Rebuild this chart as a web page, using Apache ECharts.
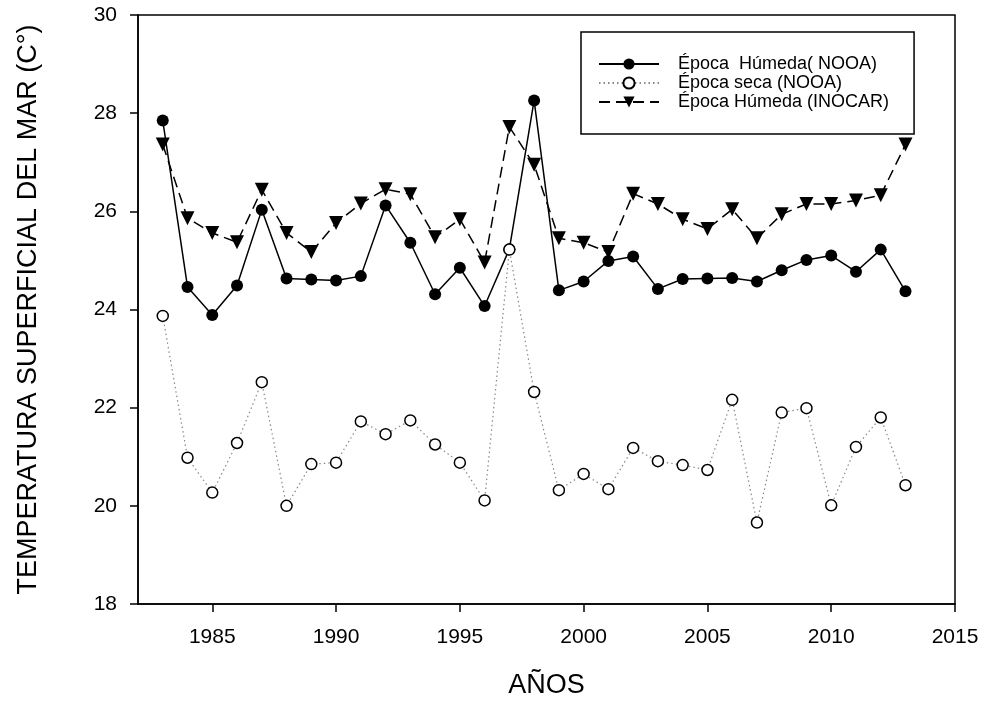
<!DOCTYPE html>
<html lang="es">
<head>
    <meta charset="UTF-8">
    <title>Temperatura superficial del mar</title>
    <script src="https://cdn.jsdelivr.net/npm/echarts@6/dist/echarts.min.js"></script>
</head>
<body style="margin:0;background:#fff;">
<div id="tsmChart" style="width:984px;height:704px;"></div>
<script type="text/javascript">
    // años y valores
    var years = [1983, 1984, 1985, 1986, 1987, 1988, 1989, 1990, 1991, 1992, 1993, 1994, 1995, 1996, 1997, 1998,
        1999, 2000, 2001, 2002, 2003, 2004, 2005, 2006, 2007, 2008, 2009, 2010, 2011, 2012, 2013];
    var humedaNOOA = [27.85, 24.46, 23.89, 24.49, 26.03, 24.63, 24.61, 24.59, 24.68, 26.12, 25.36, 24.31, 24.85, 24.07, 25.23, 28.26,
        24.39, 24.57, 24.99, 25.08, 24.42, 24.62, 24.63, 24.64, 24.57, 24.80, 25.01, 25.10, 24.77, 25.22, 24.37];
    var secaNOOA = [23.87, 20.98, 20.27, 21.28, 22.52, 20.00, 20.85, 20.88, 21.72, 21.46, 21.74, 21.25, 20.88, 20.11, 25.22, 22.32,
        20.32, 20.65, 20.34, 21.18, 20.91, 20.83, 20.73, 22.16, 19.66, 21.90, 21.99, 20.01, 21.20, 21.80, 20.42];
    var humedaINOCAR = [27.36, 25.86, 25.56, 25.37, 26.44, 25.56, 25.17, 25.76, 26.16, 26.45, 26.35, 25.47, 25.84, 24.96, 27.72, 26.95,
        25.45, 25.36, 25.17, 26.36, 26.15, 25.84, 25.64, 26.04, 25.45, 25.94, 26.15, 26.15, 26.22, 26.33, 27.36];
    var xTicks = [1985, 1990, 1995, 2000, 2005, 2010, 2015];
    var seriesNames = ['Época  Húmeda( NOOA)', 'Época seca (NOOA)', 'Época Húmeda (INOCAR)'];

    function pairs(vals) {
        var out = [];
        for (var i = 0; i < years.length; i++) {
            out.push([years[i], vals[i]]);
        }
        return out;
    }

    var font = 'Liberation Sans, Arial, sans-serif';
    var myChart = echarts.init(document.getElementById('tsmChart'));

    var option = {
        backgroundColor: '#fff',
        animation: false,
        grid: {
            left: 138, right: 29, top: 15, bottom: 95,
            show: true, borderColor: '#000', borderWidth: 1.5
        },
        legend: {
            orient: 'vertical',
            left: 581, top: 32,
            padding: [23, 25, 23, 17],
            itemWidth: 60, itemHeight: 14, itemGap: 1,
            borderColor: '#000', borderWidth: 1.5,
            textStyle: {fontFamily: font, fontSize: 18, color: '#000', padding: [0, 0, 0, 14]},
            data: seriesNames
        },
        xAxis: {
            type: 'value',
            min: 1982, max: 2015,
            name: 'AÑOS',
            nameLocation: 'middle',
            nameGap: 68,
            nameTextStyle: {fontFamily: font, fontSize: 27, color: '#000'},
            axisLine: {lineStyle: {color: '#000', width: 1.5}},
            axisTick: {show: true, length: 8, lineStyle: {color: '#000', width: 1.5}, customValues: xTicks},
            axisLabel: {
                fontFamily: font, fontSize: 21, color: '#000', margin: 23, customValues: xTicks,
                formatter: function (v) { return String(v); }
            },
            splitLine: {show: false}
        },
        yAxis: {
            type: 'value',
            min: 18, max: 30, interval: 2,
            name: 'TEMPERATURA SUPERFICIAL DEL MAR (C°)',
            nameLocation: 'middle',
            nameGap: 96,
            nameTextStyle: {fontFamily: font, fontSize: 27, color: '#000'},
            axisLine: {show: true, lineStyle: {color: '#000', width: 1.5}},
            axisTick: {show: true, length: 8, lineStyle: {color: '#000', width: 1.5}},
            axisLabel: {fontFamily: font, fontSize: 21, color: '#000', margin: 21},
            splitLine: {show: false}
        },
        series: [
            {
                name: seriesNames[0],
                type: 'line',
                data: pairs(humedaNOOA),
                symbol: 'circle',
                symbolSize: 12,
                lineStyle: {color: '#000', width: 1.5, type: 'solid'},
                itemStyle: {color: '#000'}
            },
            {
                name: seriesNames[1],
                type: 'line',
                data: pairs(secaNOOA),
                symbol: 'circle',
                symbolSize: 11,
                lineStyle: {color: '#888', width: 1.2, type: [1.5, 3]},
                itemStyle: {color: '#fff', borderColor: '#000', borderWidth: 1.5}
            },
            {
                name: seriesNames[2],
                type: 'line',
                data: pairs(humedaINOCAR),
                symbol: 'triangle',
                symbolRotate: 180,
                symbolSize: 14,
                lineStyle: {color: '#000', width: 1.5, type: [11, 6]},
                itemStyle: {color: '#000'}
            }
        ]
    };

    myChart.setOption(option);
</script>
</body>
</html>
